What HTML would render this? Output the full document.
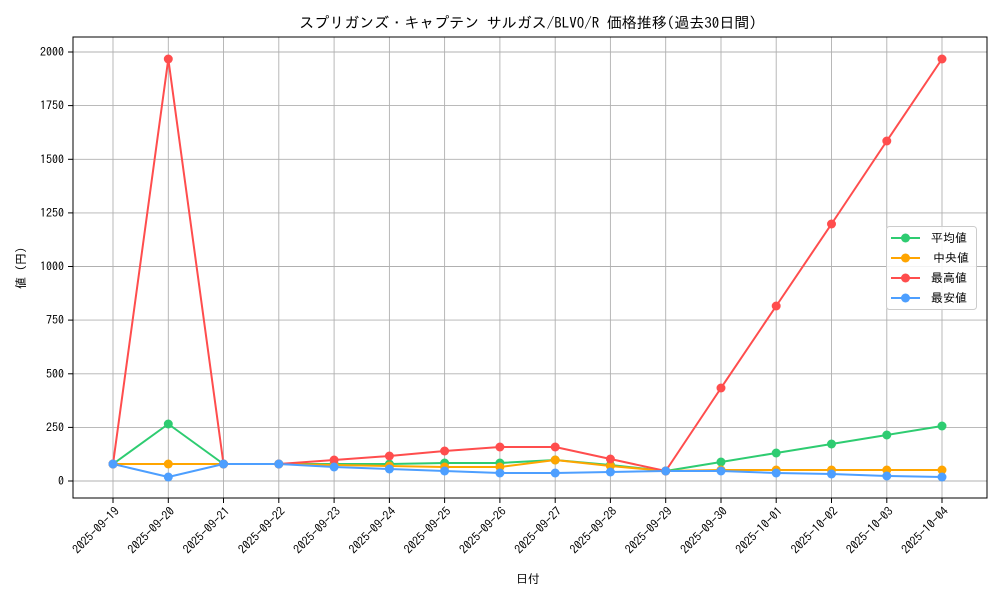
<!DOCTYPE html><html><head><meta charset="utf-8"><style>body{margin:0;background:#fff}svg{display:block;font-family:"IPAGothic","Noto Sans CJK JP",sans-serif}</style></head><body>
<svg width="1000" height="600" viewBox="0 0 1000 600">
<rect width="1000" height="600" fill="#fff"/>
<text x="528" y="28" font-size="15" text-anchor="middle" fill="#000">スプリガンズ・キャプテン サルガス/BLVO/R 価格推移(過去30日間)</text>
<g stroke="#b0b0b0" stroke-width="0.9">
<line x1="113" y1="37" x2="113" y2="498"/><line x1="168.3" y1="37" x2="168.3" y2="498"/><line x1="223.5" y1="37" x2="223.5" y2="498"/><line x1="278.8" y1="37" x2="278.8" y2="498"/><line x1="334.1" y1="37" x2="334.1" y2="498"/><line x1="389.4" y1="37" x2="389.4" y2="498"/><line x1="444.6" y1="37" x2="444.6" y2="498"/><line x1="499.9" y1="37" x2="499.9" y2="498"/><line x1="555.2" y1="37" x2="555.2" y2="498"/><line x1="610.4" y1="37" x2="610.4" y2="498"/><line x1="665.7" y1="37" x2="665.7" y2="498"/><line x1="721" y1="37" x2="721" y2="498"/><line x1="776.2" y1="37" x2="776.2" y2="498"/><line x1="831.5" y1="37" x2="831.5" y2="498"/><line x1="886.8" y1="37" x2="886.8" y2="498"/><line x1="942" y1="37" x2="942" y2="498"/>
<line x1="73" y1="481" x2="987" y2="481"/><line x1="73" y1="427.4" x2="987" y2="427.4"/><line x1="73" y1="373.8" x2="987" y2="373.8"/><line x1="73" y1="320.1" x2="987" y2="320.1"/><line x1="73" y1="266.5" x2="987" y2="266.5"/><line x1="73" y1="212.9" x2="987" y2="212.9"/><line x1="73" y1="159.3" x2="987" y2="159.3"/><line x1="73" y1="105.6" x2="987" y2="105.6"/><line x1="73" y1="52" x2="987" y2="52"/>
</g>
<rect x="73" y="37" width="914" height="461" fill="none" stroke="#000" stroke-width="1"/>
<g stroke="#000"><line x1="68" y1="481" x2="73" y2="481"/><line x1="68" y1="427.4" x2="73" y2="427.4"/><line x1="68" y1="373.8" x2="73" y2="373.8"/><line x1="68" y1="320.1" x2="73" y2="320.1"/><line x1="68" y1="266.5" x2="73" y2="266.5"/><line x1="68" y1="212.9" x2="73" y2="212.9"/><line x1="68" y1="159.3" x2="73" y2="159.3"/><line x1="68" y1="105.6" x2="73" y2="105.6"/><line x1="68" y1="52" x2="73" y2="52"/></g>
<g font-size="12" text-anchor="end" fill="#000"><text x="64" y="485">0</text><text x="64" y="431.4">250</text><text x="64" y="377.8">500</text><text x="64" y="324.1">750</text><text x="64" y="270.5">1000</text><text x="64" y="216.9">1250</text><text x="64" y="163.3">1500</text><text x="64" y="109.6">1750</text><text x="64" y="56">2000</text></g>
<g stroke="#000">
<line x1="113" y1="498" x2="113" y2="503"/><line x1="168.3" y1="498" x2="168.3" y2="503"/><line x1="223.5" y1="498" x2="223.5" y2="503"/><line x1="278.8" y1="498" x2="278.8" y2="503"/><line x1="334.1" y1="498" x2="334.1" y2="503"/><line x1="389.4" y1="498" x2="389.4" y2="503"/><line x1="444.6" y1="498" x2="444.6" y2="503"/><line x1="499.9" y1="498" x2="499.9" y2="503"/><line x1="555.2" y1="498" x2="555.2" y2="503"/><line x1="610.4" y1="498" x2="610.4" y2="503"/><line x1="665.7" y1="498" x2="665.7" y2="503"/><line x1="721" y1="498" x2="721" y2="503"/><line x1="776.2" y1="498" x2="776.2" y2="503"/><line x1="831.5" y1="498" x2="831.5" y2="503"/><line x1="886.8" y1="498" x2="886.8" y2="503"/><line x1="942" y1="498" x2="942" y2="503"/>
</g>
<g font-size="12" text-anchor="end" fill="#000">
<text transform="translate(120,512) rotate(-45)">2025-09-19</text>
<text transform="translate(175.3,512) rotate(-45)">2025-09-20</text>
<text transform="translate(230.5,512) rotate(-45)">2025-09-21</text>
<text transform="translate(285.8,512) rotate(-45)">2025-09-22</text>
<text transform="translate(341.1,512) rotate(-45)">2025-09-23</text>
<text transform="translate(396.4,512) rotate(-45)">2025-09-24</text>
<text transform="translate(451.6,512) rotate(-45)">2025-09-25</text>
<text transform="translate(506.9,512) rotate(-45)">2025-09-26</text>
<text transform="translate(562.2,512) rotate(-45)">2025-09-27</text>
<text transform="translate(617.4,512) rotate(-45)">2025-09-28</text>
<text transform="translate(672.7,512) rotate(-45)">2025-09-29</text>
<text transform="translate(728,512) rotate(-45)">2025-09-30</text>
<text transform="translate(783.2,512) rotate(-45)">2025-10-01</text>
<text transform="translate(838.5,512) rotate(-45)">2025-10-02</text>
<text transform="translate(893.8,512) rotate(-45)">2025-10-03</text>
<text transform="translate(949,512) rotate(-45)">2025-10-04</text>
</g>
<text x="528" y="583" font-size="12" text-anchor="middle">日付</text>
<text transform="translate(25,268) rotate(-90)" font-size="12" text-anchor="middle">値 (円)</text>
<g fill="none" stroke-width="2" stroke-linejoin="round">
<polyline stroke="#2ecc71" points="113,464 168.3,424 223.5,464 278.8,464 334.1,464 389.4,464 444.6,463 499.9,463 555.2,460 610.4,465 665.7,471 721,462 776.2,453 831.5,444 886.8,435 942,426"/>
<polyline stroke="#ffa500" points="113,464 168.3,464 223.5,464 278.8,464 334.1,465 389.4,466 444.6,467 499.9,467 555.2,460 610.4,466 665.7,471 721,470 776.2,470 831.5,470 886.8,470 942,470"/>
<polyline stroke="#ff4d4d" points="113,464 168.3,59 223.5,464 278.8,464 334.1,460 389.4,456 444.6,451 499.9,447 555.2,447 610.4,459 665.7,471 721,388 776.2,306 831.5,224 886.8,141 942,59"/>
<polyline stroke="#4d9fff" points="113,464 168.3,477 223.5,464 278.8,464 334.1,467 389.4,469 444.6,471 499.9,473 555.2,473 610.4,472 665.7,471 721,471 776.2,473 831.5,474 886.8,476 942,477"/>
</g>
<g fill="#2ecc71"><circle cx="113" cy="464" r="4.5"/><circle cx="168.3" cy="424" r="4.5"/><circle cx="223.5" cy="464" r="4.5"/><circle cx="278.8" cy="464" r="4.5"/><circle cx="334.1" cy="464" r="4.5"/><circle cx="389.4" cy="464" r="4.5"/><circle cx="444.6" cy="463" r="4.5"/><circle cx="499.9" cy="463" r="4.5"/><circle cx="555.2" cy="460" r="4.5"/><circle cx="610.4" cy="465" r="4.5"/><circle cx="665.7" cy="471" r="4.5"/><circle cx="721" cy="462" r="4.5"/><circle cx="776.2" cy="453" r="4.5"/><circle cx="831.5" cy="444" r="4.5"/><circle cx="886.8" cy="435" r="4.5"/><circle cx="942" cy="426" r="4.5"/></g>
<g fill="#ffa500"><circle cx="113" cy="464" r="4.5"/><circle cx="168.3" cy="464" r="4.5"/><circle cx="223.5" cy="464" r="4.5"/><circle cx="278.8" cy="464" r="4.5"/><circle cx="334.1" cy="465" r="4.5"/><circle cx="389.4" cy="466" r="4.5"/><circle cx="444.6" cy="467" r="4.5"/><circle cx="499.9" cy="467" r="4.5"/><circle cx="555.2" cy="460" r="4.5"/><circle cx="610.4" cy="466" r="4.5"/><circle cx="665.7" cy="471" r="4.5"/><circle cx="721" cy="470" r="4.5"/><circle cx="776.2" cy="470" r="4.5"/><circle cx="831.5" cy="470" r="4.5"/><circle cx="886.8" cy="470" r="4.5"/><circle cx="942" cy="470" r="4.5"/></g>
<g fill="#ff4d4d"><circle cx="113" cy="464" r="4.5"/><circle cx="168.3" cy="59" r="4.5"/><circle cx="223.5" cy="464" r="4.5"/><circle cx="278.8" cy="464" r="4.5"/><circle cx="334.1" cy="460" r="4.5"/><circle cx="389.4" cy="456" r="4.5"/><circle cx="444.6" cy="451" r="4.5"/><circle cx="499.9" cy="447" r="4.5"/><circle cx="555.2" cy="447" r="4.5"/><circle cx="610.4" cy="459" r="4.5"/><circle cx="665.7" cy="471" r="4.5"/><circle cx="721" cy="388" r="4.5"/><circle cx="776.2" cy="306" r="4.5"/><circle cx="831.5" cy="224" r="4.5"/><circle cx="886.8" cy="141" r="4.5"/><circle cx="942" cy="59" r="4.5"/></g>
<g fill="#4d9fff"><circle cx="113" cy="464" r="4.5"/><circle cx="168.3" cy="477" r="4.5"/><circle cx="223.5" cy="464" r="4.5"/><circle cx="278.8" cy="464" r="4.5"/><circle cx="334.1" cy="467" r="4.5"/><circle cx="389.4" cy="469" r="4.5"/><circle cx="444.6" cy="471" r="4.5"/><circle cx="499.9" cy="473" r="4.5"/><circle cx="555.2" cy="473" r="4.5"/><circle cx="610.4" cy="472" r="4.5"/><circle cx="665.7" cy="471" r="4.5"/><circle cx="721" cy="471" r="4.5"/><circle cx="776.2" cy="473" r="4.5"/><circle cx="831.5" cy="474" r="4.5"/><circle cx="886.8" cy="476" r="4.5"/><circle cx="942" cy="477" r="4.5"/></g>
<rect x="886.5" y="226.5" width="90" height="83" rx="3" fill="#fff" fill-opacity="0.85" stroke="#ccc"/>
<g stroke-width="2"><line x1="891" y1="238" x2="920" y2="238" stroke="#2ecc71"/><line x1="891" y1="258" x2="920" y2="258" stroke="#ffa500"/><line x1="891" y1="278" x2="920" y2="278" stroke="#ff4d4d"/><line x1="891" y1="298" x2="920" y2="298" stroke="#4d9fff"/></g>
<circle cx="905.5" cy="238" r="4.5" fill="#2ecc71"/><circle cx="905.5" cy="258" r="4.5" fill="#ffa500"/><circle cx="905.5" cy="278" r="4.5" fill="#ff4d4d"/><circle cx="905.5" cy="298" r="4.5" fill="#4d9fff"/>
<g font-size="12"><text x="931" y="242">平均値</text><text x="933" y="262">中央値</text><text x="931" y="282">最高値</text><text x="931" y="302">最安値</text></g>
</svg></body></html>
